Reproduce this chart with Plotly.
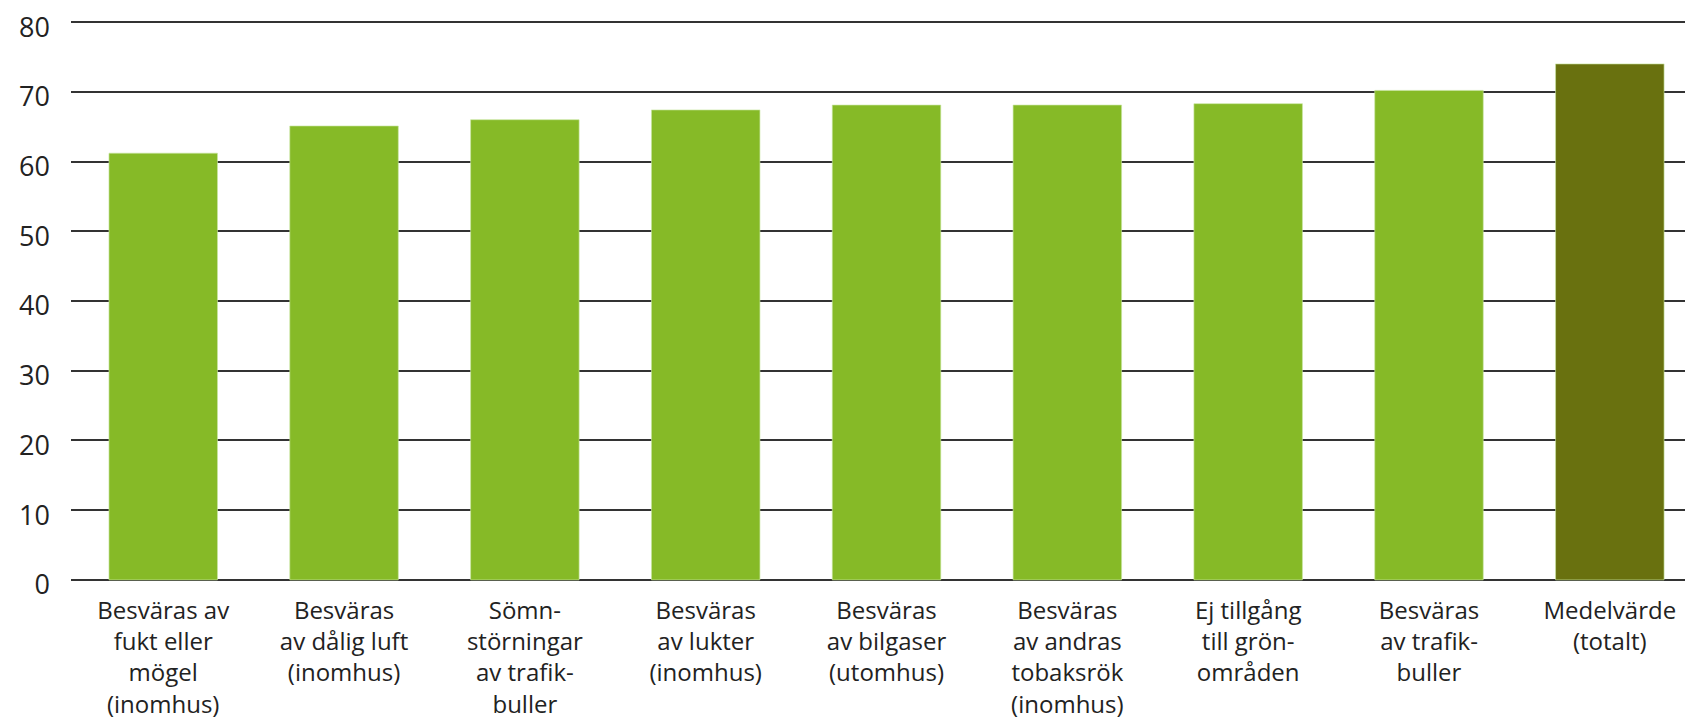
import plotly.graph_objects as go

categories = [
    "Besväras av<br>fukt eller<br>mögel<br>(inomhus)",
    "Besväras<br>av dålig luft<br>(inomhus)",
    "Sömn-<br>störningar<br>av trafik-<br>buller",
    "Besväras<br>av lukter<br>(inomhus)",
    "Besväras<br>av bilgaser<br>(utomhus)",
    "Besväras<br>av andras<br>tobaksrök<br>(inomhus)",
    "Ej tillgång<br>till grön-<br>områden",
    "Besväras<br>av trafik-<br>buller",
    "Medelvärde<br>(totalt)",
]
values = [61.2, 65.1, 66.0, 67.4, 68.1, 68.1, 68.3, 70.2, 74.0]
bar_colors = ["#86BA27"] * 8 + ["#69710F"]
y_ticks = [0, 10, 20, 30, 40, 50, 60, 70, 80]

fig = go.Figure(
    go.Bar(
        x=list(range(len(categories))),
        y=values,
        marker=dict(color=bar_colors, line=dict(color="rgba(200,230,160,0.8)", width=0.8)),
        width=0.6,
    )
)

font_family = "Open Sans, Noto Sans, sans-serif"
# the page body has an 8px default margin, so the figure is shrunk by 8px
fig.update_layout(
    width=1685,
    height=712,
    margin=dict(l=63, r=0, t=12, b=138),
    plot_bgcolor="white",
    paper_bgcolor="white",
    showlegend=False,
    font=dict(family=font_family, size=24, color="#222222"),
)
fig.update_xaxes(
    range=[-0.51, 8.46],
    tickmode="array",
    tickvals=list(range(len(categories))),
    ticktext=categories,
    showgrid=False,
    zeroline=False,
    showline=False,
    ticks="",
    automargin=False,
    ticklabelstandoff=12,
    tickfont=dict(size=24, color="#222222"),
)
fig.update_yaxes(
    range=[-0.3, 80.3],
    tickvals=y_ticks,
    showgrid=True,
    gridcolor="#333333",
    gridwidth=2,
    zeroline=False,
    showline=False,
    ticks="",
    automargin=False,
    ticklabelstandoff=20,
    ticklabelshift=5,
    ticklabeloverflow="allow",
    tickfont=dict(size=27, color="#222222"),
)

fig.write_html("out.html")
